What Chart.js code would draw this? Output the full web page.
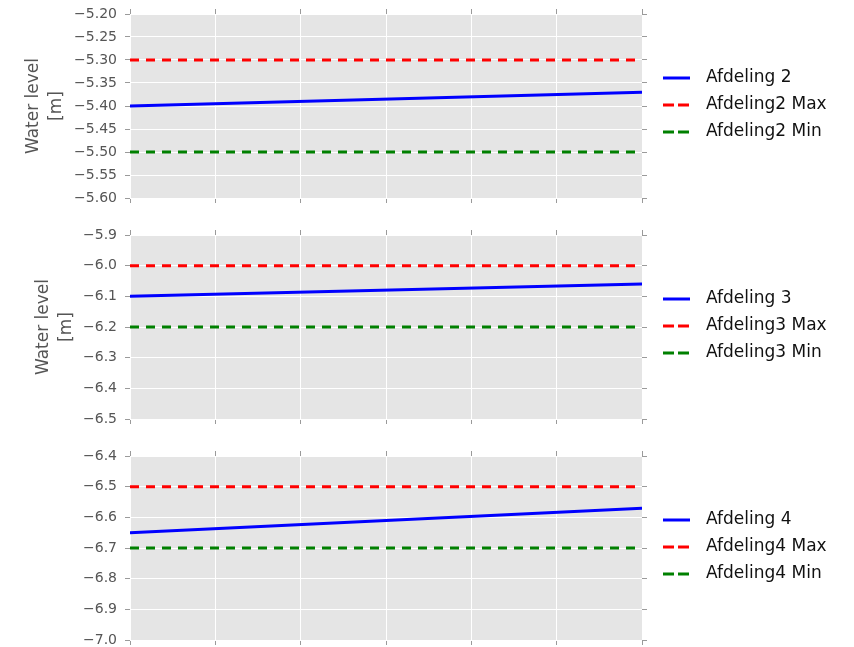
<!DOCTYPE html>
<html>
<head>
<meta charset="utf-8">
<script src="https://cdn.jsdelivr.net/npm/chart.js@4.4.0/dist/chart.umd.min.js"></script>
<style>
  html, body { margin: 0; padding: 0; background: #fff; overflow: hidden; width: 854px; height: 647px; }
  .panel { position: absolute; left: 0; width: 854px; }
  canvas { display: block; }
</style>
</head>
<body>
<div class="panel" id="p2"><canvas id="c2" width="854" height="244"></canvas></div>
<div class="panel" id="p3"><canvas id="c3" width="854" height="244"></canvas></div>
<div class="panel" id="p4"><canvas id="c4" width="854" height="244"></canvas></div>
<script>
// Data: first and last sample of each series (x ticks 0..6, no labels)
const xValues = [0, 6];
const xTicks = [0, 1, 2, 3, 4, 5, 6];

const afdeling2 = [-5.40, -5.37];
const afdeling2Max = [-5.30, -5.30];
const afdeling2Min = [-5.50, -5.50];
const yTicks2 = [-5.60, -5.55, -5.50, -5.45, -5.40, -5.35, -5.30, -5.25, -5.20];

const afdeling3 = [-6.10, -6.06];
const afdeling3Max = [-6.0, -6.0];
const afdeling3Min = [-6.2, -6.2];
const yTicks3 = [-6.5, -6.4, -6.3, -6.2, -6.1, -6.0, -5.9];

const afdeling4 = [-6.65, -6.57];
const afdeling4Max = [-6.5, -6.5];
const afdeling4Min = [-6.7, -6.7];
const yTicks4 = [-7.0, -6.9, -6.8, -6.7, -6.6, -6.5, -6.4];

const yTitle = ['Water level', '[m]'];

// Layout
const FONT = '"DejaVu Sans", sans-serif';
const AREA_H = 184;
const PAD = 30;
const LEFT_W = 130;
const RIGHT_W = 854 - 642;

const panels = [
  { canvas: 'c2', box: 'p2', top: 14, label: 'Afdeling 2', prefix: 'Afdeling2',
    level: afdeling2, max: afdeling2Max, min: afdeling2Min, ticks: yTicks2, decimals: 2, title: true, titlePad: 23 },
  { canvas: 'c3', box: 'p3', top: 235, label: 'Afdeling 3', prefix: 'Afdeling3',
    level: afdeling3, max: afdeling3Max, min: afdeling3Min, ticks: yTicks3, decimals: 1, title: true, titlePad: 33 },
  { canvas: 'c4', box: 'p4', top: 456, label: 'Afdeling 4', prefix: 'Afdeling4',
    level: afdeling4, max: afdeling4Max, min: afdeling4Min, ticks: yTicks4, decimals: 1, title: false, titlePad: 0 }
];

function series(values) {
  return xValues.map((x, i) => ({ x: x, y: values[i] }));
}

function fmt(v, decimals) {
  return v.toFixed(decimals).replace('-', '\u2212');
}

// Grey plot background
const plotBackground = {
  id: 'plotBackground',
  beforeDraw(chart) {
    const a = chart.chartArea;
    const ctx = chart.ctx;
    ctx.save();
    ctx.fillStyle = '#e5e5e5';
    ctx.fillRect(a.left, a.top, a.right - a.left, a.bottom - a.top);
    ctx.restore();
  }
};

// Legend drawn to the right of the plot
const sideLegend = {
  id: 'sideLegend',
  afterDraw(chart) {
    const a = chart.chartArea;
    const ctx = chart.ctx;
    const sets = chart.data.datasets;
    const gap = 27;
    const y0 = (a.top + a.bottom) / 2 - 1 - gap * (sets.length - 1) / 2;
    ctx.save();
    ctx.font = '17px ' + FONT;
    ctx.textBaseline = 'middle';
    ctx.textAlign = 'left';
    sets.forEach((ds, i) => {
      const y = y0 + i * gap;
      ctx.beginPath();
      ctx.strokeStyle = ds.borderColor;
      ctx.lineWidth = ds.borderWidth;
      ctx.setLineDash(ds.borderDash ? [11, 4] : []);
      ctx.moveTo(a.right + 21, y);
      ctx.lineTo(a.right + 48, y);
      ctx.stroke();
      ctx.fillStyle = '#111';
      ctx.fillText(ds.label, a.right + 64, y);
    });
    ctx.restore();
  }
};

function setTicks(list) {
  return scale => { scale.ticks = list.map(v => ({ value: v })); };
}

function makeChart(p) {
  document.getElementById(p.box).style.top = (p.top - PAD) + 'px';
  const yMin = p.ticks[0];
  const yMax = p.ticks[p.ticks.length - 1];
  const grid = { color: '#ffffff', lineWidth: 1, tickColor: '#9a9a9a', tickLength: 5, tickWidth: 1 };
  const outerGrid = Object.assign({}, grid, { drawOnChartArea: false });

  return new Chart(document.getElementById(p.canvas), {
    type: 'line',
    data: {
      datasets: [
        { label: p.label, data: series(p.level), borderColor: '#0000ff', borderWidth: 3 },
        { label: p.prefix + ' Max', data: series(p.max), borderColor: '#ff0000', borderWidth: 3, borderDash: [9, 7] },
        { label: p.prefix + ' Min', data: series(p.min), borderColor: '#008000', borderWidth: 3, borderDash: [9, 7] }
      ]
    },
    options: {
      responsive: false,
      animation: false,
      devicePixelRatio: 1,
      layout: { padding: 0 },
      elements: { point: { radius: 0 }, line: { tension: 0, borderCapStyle: 'butt' } },
      plugins: { legend: { display: false }, tooltip: { enabled: false } },
      scales: {
        x: {
          type: 'linear', position: 'bottom', min: 0, max: 6,
          afterBuildTicks: setTicks(xTicks),
          ticks: { callback: () => '', autoSkip: false },
          grid: grid,
          border: { display: false },
          afterFit: s => { s.height = PAD; }
        },
        xTop: {
          axis: 'x', type: 'linear', position: 'top', min: 0, max: 6,
          afterBuildTicks: setTicks(xTicks),
          ticks: { callback: () => '', autoSkip: false },
          grid: outerGrid,
          border: { display: false },
          afterFit: s => { s.height = PAD; }
        },
        y: {
          type: 'linear', position: 'left', min: yMin, max: yMax,
          afterBuildTicks: setTicks(p.ticks),
          ticks: {
            autoSkip: false,
            padding: 8,
            color: '#555555',
            font: { family: FONT, size: 14 },
            callback: v => fmt(v, p.decimals)
          },
          title: {
            display: p.title,
            text: yTitle,
            color: '#555555',
            font: { family: FONT, size: 17, lineHeight: 1.3 },
            padding: { top: p.titlePad, bottom: 0 }
          },
          grid: grid,
          border: { display: false },
          afterFit: s => { s.width = LEFT_W; }
        },
        y2: {
          axis: 'y', type: 'linear', position: 'right', min: yMin, max: yMax,
          afterBuildTicks: setTicks(p.ticks),
          ticks: { callback: () => '', autoSkip: false },
          grid: outerGrid,
          border: { display: false },
          afterFit: s => { s.width = RIGHT_W; }
        }
      }
    },
    plugins: [plotBackground, sideLegend]
  });
}

panels.forEach(makeChart);
</script>
</body>
</html>
